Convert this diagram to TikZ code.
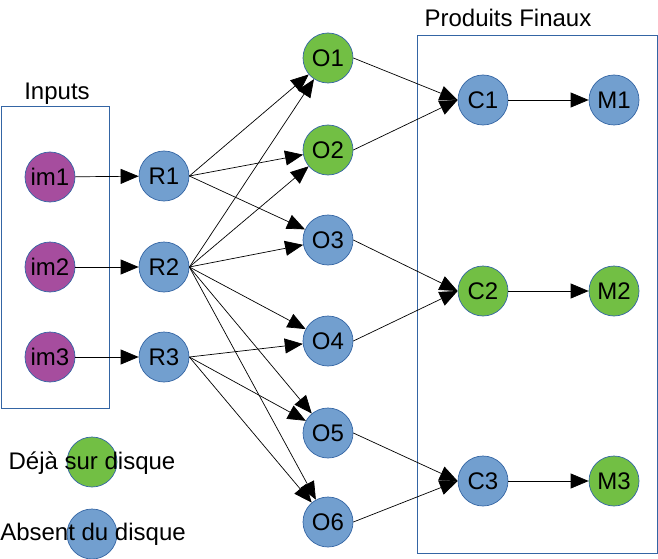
\documentclass[tikz,border=0pt]{standalone}
\usepackage{fontspec}
\setmainfont{Liberation Sans}
\usepackage{tikz}
\usetikzlibrary{arrows.meta,positioning}
\usepackage{xcolor}
\definecolor{dkBorder}{HTML}{3465A4}
\definecolor{dkBlue}{HTML}{729FCF}
\definecolor{dkGreen}{HTML}{72BF44}
\definecolor{dkPurple}{HTML}{A64D9E}
\tikzset{
  nd/.style={circle, draw=dkBorder, line width=0.7pt, minimum size=50pt, inner sep=0pt, font=\fontsize{24}{28}\selectfont},
  ndB/.style={nd, fill=dkBlue},
  ndG/.style={nd, fill=dkGreen},
  ndP/.style={nd, fill=dkPurple},
  grp/.style={draw=dkBorder, line width=0.9pt},
  lbl/.style={inner sep=0pt, font=\fontsize{24}{28}\selectfont},
  arr/.style={-{Triangle[length=18pt, width=15pt]}, line width=0.7pt, draw=black},
}
\begin{document}
\begin{tikzpicture}[x=1pt, y=-1pt]
            \useasboundingbox (0,0) rectangle (658,559);
            % groups
            \draw[grp] (1,106) rectangle (109,408);
            \node[lbl] (tin) at (57,94) {Inputs};
            \draw[grp] (417,35) rectangle (657,553);
            \node[lbl] (tout) at (508,18) {Produits Finaux};
            % inputs
            \node[ndP] (im1) at (50,177) {im1};
            \node[ndP] (im2) at (50,267) {im2};
            \node[ndP] (im3) at (50,357) {im3};
            \node[ndB] (R1) at (164,176) {R1};
            \node[ndB] (R2) at (164,267) {R2};
            \node[ndB] (R3) at (164,357) {R3};
            \node[ndG] (O1) at (328,58) {O1};
            \node[ndG] (O2) at (328,150) {O2};
            \node[ndB] (O3) at (328,240) {O3};
            \node[ndB] (O4) at (328,341) {O4};
            \node[ndB] (O5) at (328,433) {O5};
            \node[ndB] (O6) at (328,522) {O6};
            \node[ndB] (C1) at (483,100) {C1};
            \node[ndG] (C2) at (483,291) {C2};
            \node[ndB] (C3) at (483,481) {C3};
            \node[ndB] (M1) at (614,100) {M1};
            \node[ndG] (M2) at (614,291) {M2};
            \node[ndG] (M3) at (614,481) {M3};
            % legend
            \node[ndG] (lg1) at (92,462) {};
            \node[lbl] (lt1) at (92,463) {Déjà sur disque};
            \node[ndB] (lg2) at (92,534) {};
            \node[lbl] (lt2) at (93,534) {Absent du disque};
            % edges
            \foreach \n in {1,2,3} \draw[arr] (im\n) -- (R\n);
            \foreach \n in {1,2,3} \draw[arr] (C\n) -- (M\n);
            \foreach \o in {O1,O2,O3} \draw[arr] (R1.east) -- (\o);
            \foreach \o in {O1,O2,O3,O4,O5,O6} \draw[arr] (R2.east) -- (\o);
            \foreach \o in {O4,O5,O6} \draw[arr] (R3.east) -- (\o);
            \draw[arr] (O1.east) -- (C1.west); \draw[arr] (O2.east) -- (C1.west);
            \draw[arr] (O3.east) -- (C2.west); \draw[arr] (O4.east) -- (C2.west);
            \draw[arr] (O5.east) -- (C3.west); \draw[arr] (O6.east) -- (C3.west);
        \end{tikzpicture}
\end{document}
